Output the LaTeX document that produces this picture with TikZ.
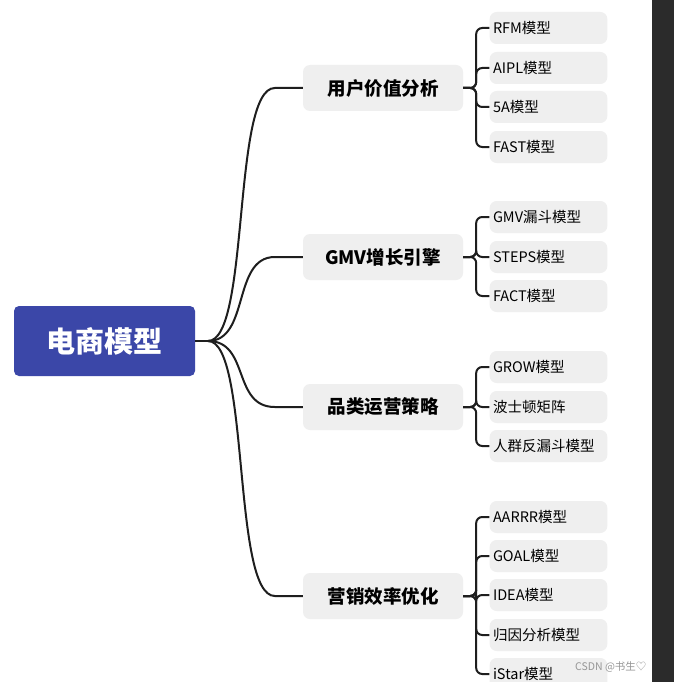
\documentclass[tikz,border=0pt]{standalone}
\usepackage{fontspec}
\setmainfont{Noto Sans CJK SC}
\definecolor{rootblue}{RGB}{59,71,168}
\definecolor{boxgray}{RGB}{239,239,239}
\definecolor{linec}{RGB}{30,30,30}
\definecolor{darkbar}{RGB}{43,43,43}
\definecolor{wmgray}{RGB}{150,150,150}
\begin{document}
\begin{tikzpicture}[x=1pt,y=-1pt,
  root/.style={fill=rootblue,rounded corners=5pt,minimum width=181pt,minimum height=70pt,text=white,font=\fontsize{29}{32}\selectfont\bfseries},
  lone/.style={fill=boxgray,rounded corners=7pt,minimum width=160pt,minimum height=46pt,font=\fontsize{18.5}{21}\selectfont\bfseries},
  ltwo/.style={fill=boxgray,rounded corners=7pt,minimum width=117pt,minimum height=32pt,text width=111pt,align=left,font=\fontsize{14.5}{16}\selectfont},
  link/.style={line width=2pt,draw=linec},
  blink/.style={link,rounded corners=6pt}]
\useasboundingbox (0,0) rectangle (674,682);
\fill[white] (0,0) rectangle (674,682);
\fill[darkbar] (652,0) rectangle (674,682);
\node[root] (r) at (104.5,341) {电商模型};
\node[lone] (a) at (383,88) {用户价值分析};
\node[lone] (b) at (383,257) {GMV增长引擎};
\node[lone] (c) at (383,407) {品类运营策略};
\node[lone] (d) at (383,596) {营销效率优化};
\node[ltwo] (a1) at (548.5,28) {RFM模型};
\node[ltwo] (a2) at (548.5,68) {AIPL模型};
\node[ltwo] (a3) at (548.5,107) {5A模型};
\node[ltwo] (a4) at (548.5,147) {FAST模型};
\node[ltwo] (b1) at (548.5,217) {GMV漏斗模型};
\node[ltwo] (b2) at (548.5,257) {STEPS模型};
\node[ltwo] (b3) at (548.5,296) {FACT模型};
\node[ltwo] (c1) at (548.5,367) {GROW模型};
\node[ltwo] (c2) at (548.5,407) {波士顿矩阵};
\node[ltwo] (c3) at (548.5,446) {人群反漏斗模型};
\node[ltwo] (d1) at (548.5,517) {AARRR模型};
\node[ltwo] (d2) at (548.5,556) {GOAL模型};
\node[ltwo] (d3) at (548.5,595) {IDEA模型};
\node[ltwo] (d4) at (548.5,635) {归因分析模型};
\node[ltwo] (d5) at (548.5,674) {iStar模型};
\coordinate (rs) at (208,341);
\draw[link] (r.east) -- (rs);
\foreach \n in {a,b,c,d}{
  \draw[link] (rs) .. controls (250,341) and (232,0|-\n.west) .. ([xshift=-28pt]\n.west) -- (\n.west);
}
\foreach \p/\kids in {a/{a1,a2,a3,a4},b/{b1,b2,b3},c/{c1,c2,c3},d/{d1,d2,d3,d4,d5}}{
  \foreach \k in \kids {
    \draw[blink] (\p.east) -- ([xshift=13pt]\p.east) |- (\k.west);
  }
}
\node[text=wmgray,font=\fontsize{10.5}{12}\selectfont,anchor=east] (wm) at (650,667) {CSDN @书生♡};
\end{tikzpicture}
\end{document}
